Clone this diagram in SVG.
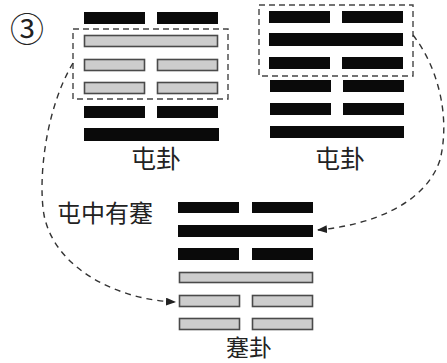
<svg xmlns="http://www.w3.org/2000/svg" width="447" height="363" viewBox="0 0 447 363">
<style>
.y{fill:#0a0a0a}
.g{fill:#cdcdcd;stroke:#4a4a4a;stroke-width:1.6}
.box{fill:none;stroke:#444;stroke-width:1.4;stroke-dasharray:6,4}
.con{fill:none;stroke:#333;stroke-width:1.4;stroke-dasharray:6,5}
.t{font-family:"Noto Sans CJK SC","Noto Sans CJK JP",sans-serif;fill:#222;text-anchor:middle;dominant-baseline:central}
</style>
<defs>
<marker id="ah" markerUnits="userSpaceOnUse" markerWidth="10" markerHeight="8" refX="9" refY="4" orient="auto">
<path d="M0,0 L10,4 L0,8 Z" fill="#222"/>
</marker>
</defs>
<rect width="447" height="363" fill="#fff"/>
<text class="t" x="27" y="27" font-size="34">③</text>
<g id="left-hexagram">
<rect class="y" x="84" y="12" width="61" height="12"/><rect class="y" x="157" y="12" width="61" height="12"/>
<rect class="g" x="84.5" y="35.5" width="133" height="11"/>
<rect class="g" x="84.5" y="59.5" width="60" height="11"/><rect class="g" x="157.5" y="59.5" width="60" height="11"/>
<rect class="g" x="84.5" y="82.5" width="60" height="11"/><rect class="g" x="157.5" y="82.5" width="60" height="11"/>
<rect class="y" x="84" y="106" width="61" height="12"/><rect class="y" x="157" y="106" width="61" height="12"/>
<rect class="y" x="84" y="128" width="135" height="13"/>
<rect class="box" x="73" y="29" width="155" height="70"/>
<text class="t" x="156" y="157" font-size="25">屯卦</text>
</g>
<g id="right-hexagram">
<rect class="y" x="269" y="11" width="61" height="12"/><rect class="y" x="342" y="11" width="61" height="12"/>
<rect class="y" x="269" y="33" width="134" height="13"/>
<rect class="y" x="269" y="57" width="61" height="12"/><rect class="y" x="342" y="57" width="61" height="12"/>
<rect class="y" x="270" y="80" width="61" height="12"/><rect class="y" x="343" y="80" width="61" height="12"/>
<rect class="y" x="270" y="103" width="61" height="12"/><rect class="y" x="343" y="103" width="61" height="12"/>
<rect class="y" x="270" y="126" width="134" height="12"/>
<rect class="box" x="259" y="5" width="154" height="71"/>
<text class="t" x="340" y="157" font-size="25">屯卦</text>
</g>
<g id="bottom-hexagram">
<rect class="y" x="178" y="202" width="61" height="11"/><rect class="y" x="252" y="202" width="61" height="11"/>
<rect class="y" x="178" y="225" width="135" height="12"/>
<rect class="y" x="178" y="248" width="61" height="12"/><rect class="y" x="252" y="248" width="61" height="12"/>
<rect class="g" x="179.5" y="272.5" width="133" height="10"/>
<rect class="g" x="179.5" y="295.5" width="60" height="11"/><rect class="g" x="252.5" y="295.5" width="60" height="11"/>
<rect class="g" x="179.5" y="318.5" width="60" height="11"/><rect class="g" x="252.5" y="318.5" width="60" height="11"/>
<text class="t" x="249" y="346" font-size="23">蹇卦</text>
</g>
<g id="label">
<text class="t" x="105" y="211" font-size="24">屯中有蹇</text>
</g>
<g id="connectors">
<path class="con" d="M73,63 C45,110 38,180 44,215 C55,270 120,300 175,302" marker-end="url(#ah)"/>
<path class="con" d="M413,35 C440,70 450,120 440,160 C425,205 370,225 318,230" marker-end="url(#ah)"/>
</g>
</svg>
